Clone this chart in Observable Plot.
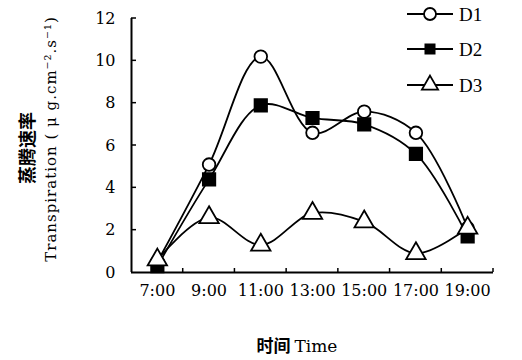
<!DOCTYPE html>
<html><head><meta charset="utf-8">
<script src="https://cdn.jsdelivr.net/npm/d3@7"></script>
<script src="https://cdn.jsdelivr.net/npm/@observablehq/plot@0.6"></script>
<style>body{margin:0;background:#fff;} svg{background:#fff;}</style>
</head><body><div id="chart"></div>
<script>
const times = ["7:00","9:00","11:00","13:00","15:00","17:00","19:00"];
const seriesNames = ["D1","D2","D3"];
const d1 = [0.5, 5.1, 10.2, 6.6, 7.6, 6.6, 2.1];
const d2 = [0.3, 4.4, 7.9, 7.3, 7.0, 5.6, 1.7];
const d3v = [0.6, 2.6, 1.3, 2.8, 2.4, 0.9, 2.1];
const yTicks = [0, 2, 4, 6, 8, 10, 12];
const xBoundaryTicks = [8, 10, 12, 14, 16, 18, 20];
const yTitleCn = "蒸腾速率";
const yTitleEn = "Transpiration ( μ g.cm⁻².s⁻¹)";
const xTitleCn = "时间";
const xTitleEn = "Time";

const hours = times.map(t => parseInt(t));
const values = [d1, d2, d3v];
const data = [];
seriesNames.forEach((s, k) => values[k].forEach((v, i) => data.push({series: s, hour: hours[i], value: v})));

const markers = {
  D1: {symbol: "circle", fill: "white", r: 6.3},
  D2: {symbol: "square", fill: "black", r: 7},
  D3: {symbol: "triangle", fill: "white", r: 7.2}
};

const serif = "'DejaVu Serif', 'Liberation Serif', serif";
const plot = Plot.plot({
  width: 522,
  height: 360,
  marginLeft: 131,
  marginRight: 29,
  marginTop: 18,
  marginBottom: 88,
  style: {fontFamily: serif, fontSize: "16px", color: "black", background: "white"},
  x: {domain: [6, 20], axis: null},
  y: {domain: [0, 12], axis: null},
  marks: [
    Plot.axisY(yTicks, {tickSize: 0, tickPadding: 16, label: null, fontSize: 16}),
    Plot.axisX(hours, {tickSize: 0, tickPadding: 12, label: null, fontSize: 16, tickFormat: d => times[hours.indexOf(d)]}),
    Plot.ruleX([6], {stroke: "black", strokeWidth: 2}),
    Plot.ruleY([0], {stroke: "black", strokeWidth: 2}),
    Plot.line(data, {x: "hour", y: "value", z: "series", curve: "catmull-rom", stroke: "black", strokeWidth: 1.8}),
    ...seriesNames.map(s => Plot.dot(data.filter(d => d.series === s), {
      x: "hour", y: "value", symbol: markers[s].symbol, r: markers[s].r,
      fill: markers[s].fill, stroke: "black", strokeWidth: 1.8
    }))
  ]
});

const svg = d3.select(plot);
const xs = plot.scale("x"), ys = plot.scale("y");
// inward tick marks
const x0 = xs.apply(6), y0 = ys.apply(0);
svg.append("g").selectAll("line").data(yTicks.slice(1)).join("line")
  .attr("x1", x0).attr("x2", x0 + 5)
  .attr("y1", d => ys.apply(d)).attr("y2", d => ys.apply(d))
  .attr("stroke", "black").attr("stroke-width", 1.5);
svg.append("g").selectAll("line").data(xBoundaryTicks).join("line")
  .attr("x1", d => xs.apply(d)).attr("x2", d => xs.apply(d))
  .attr("y1", y0).attr("y2", y0 - 4)
  .attr("stroke", "black").attr("stroke-width", 1.5);
// Y axis titles
svg.append("text")
  .attr("transform", "translate(34,148) rotate(-90)")
  .attr("text-anchor", "middle")
  .attr("font-family", "'Noto Sans CJK SC', sans-serif")
  .attr("font-weight", "bold")
  .attr("font-size", 18)
  .text(yTitleCn);
svg.append("text")
  .attr("transform", "translate(56,139) rotate(-90)")
  .attr("text-anchor", "middle")
  .attr("font-family", serif)
  .attr("font-size", 15)
  .attr("letter-spacing", 1)
  .text(yTitleEn);
// X axis title
const xt = svg.append("text")
  .attr("x", 297).attr("y", 352)
  .attr("text-anchor", "middle")
  .attr("font-size", 17);
xt.append("tspan").attr("font-family", "'Noto Sans CJK SC', sans-serif").attr("font-weight", "bold").text(xTitleCn + " ");
xt.append("tspan").attr("font-family", serif).text(xTitleEn);
// Legend
const legendY = [14, 49, 85];
seriesNames.forEach((s, k) => {
  const g = svg.append("g").attr("transform", `translate(0,${legendY[k]})`);
  g.append("line").attr("x1", 407).attr("x2", 453).attr("y1", 0).attr("y2", 0)
    .attr("stroke", "black").attr("stroke-width", 2.2);
  const type = {circle: d3.symbolCircle, square: d3.symbolSquare, triangle: d3.symbolTriangle}[markers[s].symbol];
  const rr = s === "D2" ? 5.2 : 6;
  g.append("path").attr("transform", "translate(430,0)")
    .attr("d", d3.symbol(type, Math.PI * rr * rr)())
    .attr("fill", markers[s].fill).attr("stroke", "black").attr("stroke-width", 1.8);
  g.append("text").attr("x", 459).attr("y", 0).attr("dy", "0.35em")
    .attr("text-anchor", "start")
    .attr("font-family", "'Liberation Serif', serif").attr("font-size", 19)
    .text(s);
});

document.getElementById("chart").appendChild(plot);
</script>
</body></html>
